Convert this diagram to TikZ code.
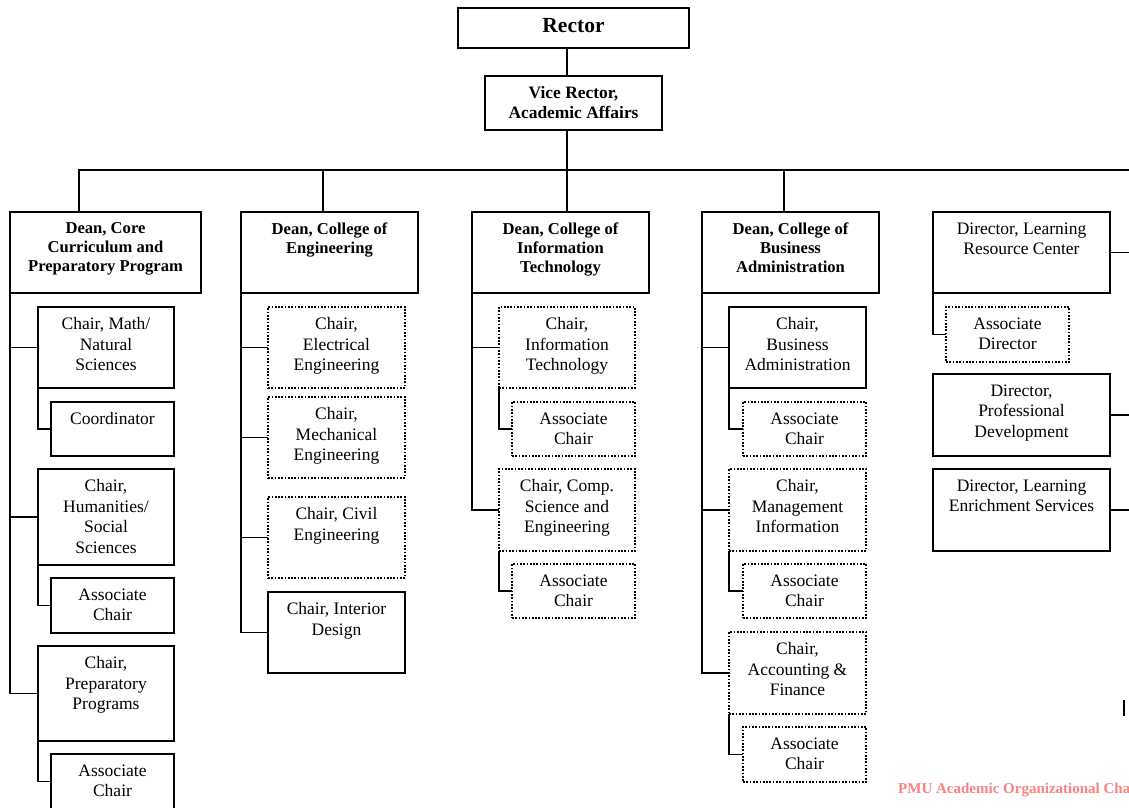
\documentclass[tikz,border=0pt]{standalone}
\usepackage{fontspec}
\setmainfont{Liberation Serif}
\definecolor{pmured}{RGB}{250,130,130}
\tikzset{
  sbox/.style={draw=black, line width=1.7pt, outer sep=0pt, inner sep=0pt, anchor=north west, fill=white},
  dbox/.style={sbox, line width=1.7pt, dash pattern=on 1.7pt off 1.6pt},
  txt/.style={anchor=north, inner sep=0pt, outer sep=0pt, align=center, font=\fontsize{17.5}{20.5}\selectfont},
  btxt/.style={txt, font=\bfseries\fontsize{16.6}{19}\selectfont},
  vrtxt/.style={txt, font=\bfseries\fontsize{17.4}{20}\selectfont},
  rectortxt/.style={txt, font=\bfseries\fontsize{21.5}{24}\selectfont},
  conn/.style={draw=black, line width=1.8pt},
}
\newcommand\orgbox[8]{%
  \node[#2, minimum width=#6-#4, minimum height=#7-#5] (#1) at (#4,#5) {};
  \node[#3] (#1-t) at ([yshift=-10.5pt]#1.north) {#8};
}
\begin{document}
\begin{tikzpicture}[x=1pt, y=-1pt]
\useasboundingbox (0,0) rectangle (1129,807);
\fill[white] (0,0) rectangle (1129,807);
\clip (0,0) rectangle (1129,807);
\coordinate (busR) at (1129,170);

% top
\orgbox{rector}{sbox}{rectortxt}{458}{8}{689}{48}{Rector}
\orgbox{vr}{sbox}{vrtxt}{485}{76}{662}{130}{Vice Rector,\\Academic Affairs}

% deans and directors
\orgbox{dcore}{sbox}{btxt}{10}{212}{201}{293}{Dean, Core\\Curriculum and\\Preparatory Program}
\orgbox{deng}{sbox}{btxt}{241}{212}{418}{293}{Dean, College of\\Engineering}
\orgbox{dit}{sbox}{btxt}{472}{212}{649}{293}{Dean, College of\\Information\\Technology}
\orgbox{dbus}{sbox}{btxt}{702}{212}{879}{293}{Dean, College of\\Business\\Administration}
\orgbox{lrc}{sbox}{txt}{933}{212}{1110}{293}{Director, Learning\\Resource Center}

% core curriculum
\orgbox{cmath}{sbox}{txt}{38}{307}{174}{388}{Chair, Math/\\Natural\\Sciences}
\orgbox{coord}{sbox}{txt}{51}{402}{174}{456}{Coordinator}
\orgbox{chum}{sbox}{txt}{38}{469}{174}{565}{Chair,\\Humanities/\\Social\\Sciences}
\orgbox{ahum}{sbox}{txt}{51}{578}{174}{633}{Associate\\Chair}
\orgbox{cprep}{sbox}{txt}{38}{646}{174}{741}{Chair,\\Preparatory\\Programs}
\orgbox{aprep}{sbox}{txt}{51}{754}{174}{809}{Associate\\Chair}

% engineering
\orgbox{cee}{dbox}{txt}{268}{307}{405}{388}{Chair,\\Electrical\\Engineering}
\orgbox{cme}{dbox}{txt}{268}{397}{405}{478}{Chair,\\Mechanical\\Engineering}
\orgbox{ccivil}{dbox}{txt}{268}{497}{405}{578}{Chair, Civil\\Engineering}
\orgbox{cint}{sbox}{txt}{268}{592}{405}{673}{Chair, Interior\\Design}

% information technology
\orgbox{cit}{dbox}{txt}{499}{307}{635}{388}{Chair,\\Information\\Technology}
\orgbox{ait}{dbox}{txt}{512}{402}{635}{456}{Associate\\Chair}
\orgbox{ccse}{dbox}{txt}{499}{469}{635}{551}{Chair, Comp.\\Science and\\Engineering}
\orgbox{acse}{dbox}{txt}{512}{564}{635}{618}{Associate\\Chair}

% business administration
\orgbox{cba}{sbox}{txt}{729}{307}{866}{388}{Chair,\\Business\\Administration}
\orgbox{aba}{dbox}{txt}{743}{402}{866}{456}{Associate\\Chair}
\orgbox{cmi}{dbox}{txt}{729}{469}{866}{551}{Chair,\\Management\\Information}
\orgbox{ami}{dbox}{txt}{743}{564}{866}{618}{Associate\\Chair}
\orgbox{caf}{dbox}{txt}{729}{632}{866}{714}{Chair,\\Accounting \&\\Finance}
\orgbox{aaf}{dbox}{txt}{743}{727}{866}{782}{Associate\\Chair}

% directors
\orgbox{adir}{dbox}{txt}{946}{307}{1069}{362}{Associate\\Director}
\orgbox{pd}{sbox}{txt}{933}{374}{1110}{456}{Director,\\Professional\\Development}
\orgbox{les}{sbox}{txt}{933}{469}{1110}{551}{Director, Learning\\Enrichment Services}

% top connectors
\draw[conn] ([xshift=-6.5pt]rector.south) -- ([xshift=-6.5pt]vr.north);
\draw[conn] ([xshift=-6.5pt]vr.south) -- ([xshift=-6.5pt]vr.south |- busR);
\draw[conn] ([xshift=-26.5pt]dcore.north) |- (busR);
\draw[conn] ([xshift=-6.5pt]deng.north) -- ([xshift=-6.5pt]deng.north |- busR);
\draw[conn] ([xshift=6.5pt]dit.north) -- ([xshift=6.5pt]dit.north |- busR);
\draw[conn] ([xshift=-6.5pt]dbus.north) -- ([xshift=-6.5pt]dbus.north |- busR);

% core spine
\draw[conn] (dcore.south west) |- (cprep.west);
\draw[conn] (dcore.south west |- cmath.west) -- (cmath.west);
\draw[conn] (dcore.south west |- chum.west) -- (chum.west);
\draw[conn] (cmath.south west) |- (coord.west);
\draw[conn] (chum.south west) |- (ahum.west);
\draw[conn] (cprep.south west) |- (aprep.west);

% engineering spine
\draw[conn] (deng.south west) |- (cint.west);
\draw[conn] (deng.south west |- cee.west) -- (cee.west);
\draw[conn] (deng.south west |- cme.west) -- (cme.west);
\draw[conn] (deng.south west |- ccivil.west) -- (ccivil.west);

% IT spine
\draw[conn] (dit.south west) |- (ccse.west);
\draw[conn] (dit.south west |- cit.west) -- (cit.west);
\draw[conn] (cit.south west) |- (ait.west);
\draw[conn] (ccse.south west) |- (acse.west);

% business spine
\draw[conn] (dbus.south west) |- (caf.west);
\draw[conn] (dbus.south west |- cba.west) -- (cba.west);
\draw[conn] (dbus.south west |- cmi.west) -- (cmi.west);
\draw[conn] (cba.south west) |- (aba.west);
\draw[conn] (cmi.south west) |- (ami.west);
\draw[conn] (caf.south west) |- (aaf.west);

% directors
\draw[conn] (lrc.south west) |- (adir.west);
\draw[conn] (lrc.east) -- (lrc.east -| busR);
\draw[conn] (pd.east) -- (pd.east -| busR);
\draw[conn] (les.east) -- (les.east -| busR);

% footer (cut off at the right edge, as in the reference) and cursor mark
\node[anchor=base west, inner sep=0pt, text=pmured, font=\bfseries\fontsize{15}{18}\selectfont] (foot) at (898,793) {PMU Academic Organizational Chart};
\draw[line width=1.6pt] (1124,700) -- (1124,716);
\end{tikzpicture}
\end{document}
